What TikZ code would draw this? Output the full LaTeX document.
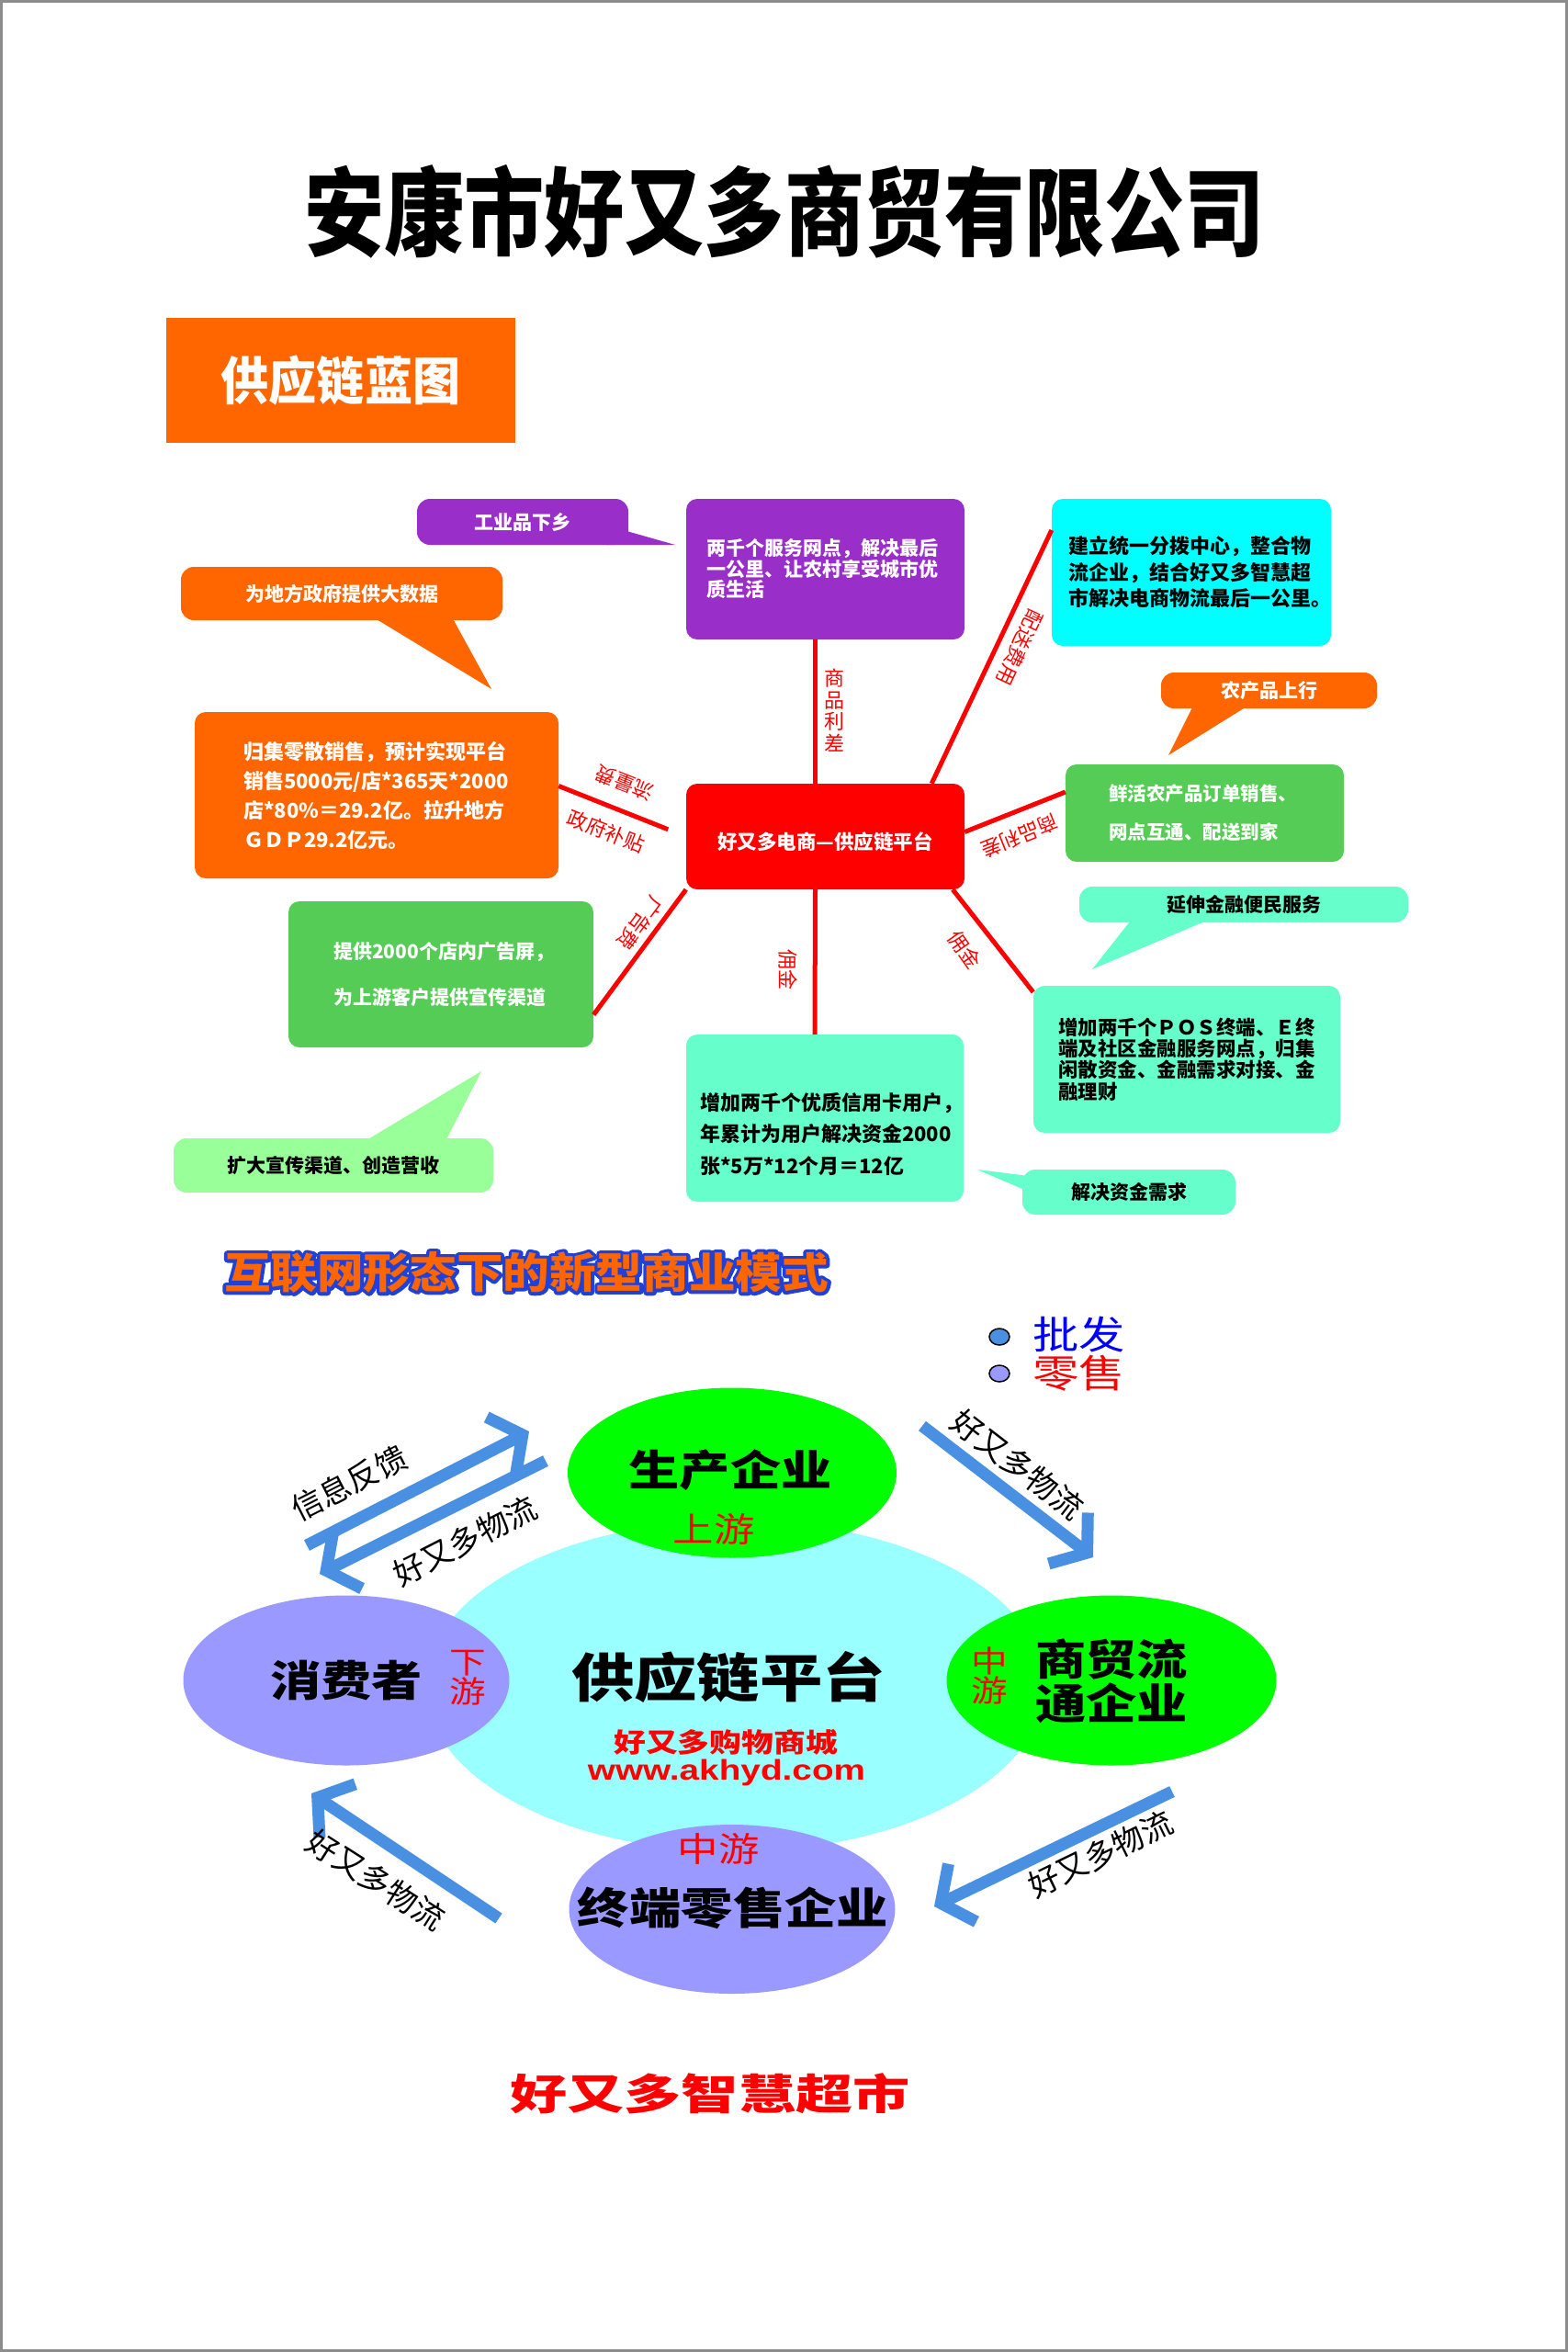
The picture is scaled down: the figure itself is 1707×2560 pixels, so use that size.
\documentclass[tikz,border=0pt]{standalone}
\usepackage{fontspec}
\setmainfont{Noto Sans CJK SC}
\newfontfamily\latinfont{Liberation Sans}
\usepackage{graphicx}
\usepackage{tikz}
\usetikzlibrary{shapes.geometric,arrows.meta}
\definecolor{orangebox}{HTML}{FF6600}
\definecolor{purplebox}{HTML}{9A2EC8}
\definecolor{redbox}{HTML}{FF0000}
\definecolor{cyanbox}{HTML}{00FFFF}
\definecolor{greenbox}{HTML}{55CC55}
\definecolor{mintbox}{HTML}{66FFCC}
\definecolor{lightgreen}{HTML}{99FF99}
\definecolor{flowblue}{HTML}{4A90E2}
\definecolor{hubcyan}{HTML}{99FFFF}
\definecolor{lavender}{HTML}{9999FF}
\definecolor{brightgreen}{HTML}{00FF00}
\definecolor{framegray}{HTML}{8C8C8C}
\newcommand{\widen}[1]{\scalebox{1.2}[1]{#1}}
% orange letters with a blue rim: stroked copy (render mode 1) under the filled one
\newcommand{\rimtext}[1]{\rlap{\special{pdf:literal direct 1 Tr 7 w 1 j 0.12 0.25 0.85 RG}#1\special{pdf:literal direct 0 Tr}}#1}
\tikzset{
  link/.style={draw=redbox, line width=5pt},
  panel/.style={rounded corners=12pt, inner ysep=0pt, align=left},
  bubble/.style={rounded corners=14pt, inner sep=0pt, align=center, font=\fontsize{21}{24}\selectfont\bfseries},
  tag/.style={text=redbox, inner sep=0pt, font=\fontsize{22}{24}\selectfont},
  flow/.style={draw=flowblue, line width=13pt, -{Straight Barb[length=26pt,width=70pt]}},
  flowtag/.style={inner sep=0pt, font=\fontsize{34}{36}\selectfont},
  blob/.style={ellipse, inner sep=0pt},
  bigname/.style={inner sep=0pt, align=center, font=\fontsize{46}{48}\selectfont\bfseries},
  stream/.style={text=redbox, inner sep=0pt, align=center, font=\fontsize{34}{32}\selectfont},
  slogan/.style={inner sep=0pt, font=\fontsize{46}{50}\selectfont\bfseries}
}
\begin{document}
\begin{tikzpicture}[x=1pt,y=-1pt]
  \useasboundingbox (0,0) rectangle (1707,2560);
  \fill[white] (0,0) rectangle (1707,2560);
  \draw[framegray, line width=3pt] (1.5,1.5) rectangle (1705.5,2558.5);

  % heading
  \node[inner sep=0pt, font=\fontsize{105}{110}\selectfont\bfseries] (heading) at (854,230) {\scalebox{0.83}[1]{安康市好又多商贸有限公司}};
  \node[fill=orangebox, minimum width=380pt, minimum height=136pt, inner sep=0pt, text=white, font=\fontsize{56}{60}\selectfont\bfseries] (blueprint) at (371,414) {\scalebox{0.93}[1]{供应链蓝图}};

  % callouts
  \fill[purplebox] (668,574) -- (735,593) -- (660,593) -- cycle;
  \node[bubble, fill=purplebox, text=white, minimum width=230pt, minimum height=50pt] (goodsdown) at (569,568) {工业品下乡};
  \fill[orangebox] (400,668) -- (535,750) -- (490,668) -- cycle;
  \node[bubble, fill=orangebox, text=white, minimum width=350pt, minimum height=58pt] (bigdata) at (372,646) {为地方政府提供大数据};
  \fill[orangebox] (1300,766) -- (1272,822) -- (1362,766) -- cycle;
  \node[bubble, fill=orangebox, text=white, minimum width=235pt, minimum height=39pt] (farmup) at (1381.5,751.5) {农产品上行};
  \fill[mintbox] (1234,998) -- (1189,1055) -- (1323,998) -- cycle;
  \node[bubble, fill=mintbox, minimum width=358pt, minimum height=39pt] (finance) at (1354,984.5) {延伸金融便民服务};
  \fill[mintbox] (1120,1280) -- (1064,1273) -- (1120,1297) -- cycle;
  \node[bubble, fill=mintbox, minimum width=232pt, minimum height=49pt] (funds) at (1229,1297.5) {解决资金需求};
  \fill[lightgreen] (394,1244) -- (524,1166) -- (484,1244) -- cycle;
  \node[bubble, fill=lightgreen, minimum width=348pt, minimum height=59pt] (publicity) at (363,1268.5) {扩大宣传渠道、创造营收};

  % panels
  \node[panel, fill=purplebox, text=white, minimum height=153pt, text width=259pt, inner xsep=22pt, font=\fontsize{21}{22.5}\selectfont\bfseries] (rural) at (898.5,619.5) {两千个服务网点，解决最后\\一公里、让农村享受城市优\\质生活};
  \node[panel, fill=orangebox, text=white, minimum height=181pt, text width=290pt, inner xsep=53pt, font=\fontsize{22}{32}\selectfont\bfseries] (sales) at (410,865.5) {归集零散销售，预计实现平台\\销售5000元/店*365天*2000\\店*80\%＝29.2亿。拉升地方\\ＧＤＰ29.2亿元。};
  \node[panel, fill=redbox, text=white, minimum width=303pt, minimum height=115pt, align=center, font=\fontsize{21.5}{24}\selectfont\bfseries] (platform) at (898.5,910.5) {\rule{0pt}{30pt}好又多电商—供应链平台};
  \node[panel, fill=cyanbox, minimum height=160pt, text width=268pt, inner xsep=18pt, font=\fontsize{22}{28.5}\selectfont\bfseries] (logistics) at (1297,623) {建立统一分拨中心，整合物\\流企业，结合好又多智慧超\\市解决电商物流最后一公里。};
  \node[panel, fill=greenbox, text=white, minimum height=106pt, text width=209pt, inner xsep=47pt, font=\fontsize{20.5}{42}\selectfont\bfseries] (farm) at (1311.5,885) {鲜活农产品订单销售、\\网点互通、配送到家};
  \node[panel, fill=mintbox, minimum height=160pt, text width=280pt, inner xsep=27pt, font=\fontsize{21.5}{23.3}\selectfont\bfseries] (pos) at (1292,1153) {增加两千个ＰＯＳ终端、Ｅ终\\端及社区金融服务网点，归集\\闲散资金、金融需求对接、金\\融理财};
  \node[panel, fill=mintbox, minimum height=182pt, text width=272pt, inner xsep=15pt, font=\fontsize{22}{34.5}\selectfont\bfseries] (credit) at (898,1217) {\rule{0pt}{54pt}增加两千个优质信用卡用户，\\年累计为用户解决资金2000\\张*5万*12个月＝12亿};
  \node[panel, fill=greenbox, text=white, minimum height=159pt, text width=234pt, inner xsep=49pt, font=\fontsize{21}{50}\selectfont\bfseries] (adscreen) at (480,1060.5) {提供2000个店内广告屏，\\为上游客户提供宣传渠道};

  % connectors
  \draw[link] ([xshift=-11pt]rural.south) -- ([xshift=-11pt]platform.north);
  \draw[link] ([xshift=-36pt]platform.north east) -- ([yshift=46pt]logistics.west);
  \draw[link] ([yshift=5pt]platform.east) -- ([yshift=23pt]farm.west);
  \draw[link, shorten >=21pt] ([yshift=10pt]sales.east) -- (platform.west);
  \draw[link] (platform.south west) -- ([yshift=-44pt]adscreen.east);
  \draw[link] ([xshift=-11pt]platform.south) -- ([xshift=-11pt]credit.north);
  \draw[link] ([xshift=-13pt]platform.south east) -- ([yshift=-7pt]pos.north west);

  \node[tag, align=center, font=\fontsize{22}{23.5}\selectfont] (marginup) at (908,773) {商\\品\\利\\差};
  \node[tag, rotate=-115] (delivery) at (1110,705) {配送费用};
  \node[tag, rotate=201.7] (margin) at (1110,910) {商品利差};
  \node[tag, rotate=158.5] (traffic) at (680,852) {流量费};
  \node[tag, rotate=-21.5] (subsidy) at (660,905) {政府补贴};
  \node[tag, rotate=233.6] (adfee) at (697,1005) {广告费};
  \node[tag, rotate=-90] (commA) at (858,1055) {佣金};
  \node[tag, rotate=-55] (commB) at (1050,1034) {佣金};

  % business model
  \node[slogan, text=orangebox] (slogan) at (573,1385) {\rimtext{\scalebox{1.1}[1]{互联网形态下的新型商业模式}}};

  \node[blob, draw=black, line width=1.5pt, fill=flowblue, minimum width=22pt, minimum height=18pt] (dotwhole) at (1088,1455) {};
  \node[anchor=west, inner sep=0pt, text=blue, font=\fontsize{42}{44}\selectfont] (wholesale) at (1124,1452) {\widen{批发}};
  \node[blob, draw=black, line width=1.5pt, fill=lavender, minimum width=22pt, minimum height=18pt] (dotretail) at (1088,1495) {};
  \node[anchor=west, inner sep=0pt, text=redbox, font=\fontsize{42}{44}\selectfont] (retail) at (1124,1495) {\widen{零售}};

  \node[blob, fill=hubcyan, minimum width=674pt, minimum height=360pt] (hub) at (800,1835) {};
  \node[blob, fill=brightgreen, minimum width=358pt, minimum height=185pt] (maker) at (797,1603) {};
  \node[blob, fill=lavender, minimum width=355pt, minimum height=185pt] (consumer) at (377,1829) {};
  \node[blob, fill=brightgreen, minimum width=359pt, minimum height=185pt] (trader) at (1210,1829) {};
  \node[blob, fill=lavender, minimum width=355pt, minimum height=184pt] (store) at (797,2078) {};

  \node[bigname] (makername) at (795,1600) {\widen{生产企业}};
  \node[stream, font=\fontsize{37}{40}\selectfont] (up) at (777,1664) {\widen{上游}};
  \node[bigname] (consumername) at (377,1829) {\widen{消费者}};
  \node[stream, font=\fontsize{33}{32}\selectfont] (down) at (509,1826) {\widen{下}\\\widen{游}};
  \node[bigname] (tradername) at (1210,1830) {\widen{商贸流}\\\widen{通企业}};
  \node[stream, font=\fontsize{33}{32}\selectfont] (midA) at (1077,1824) {\widen{中}\\\widen{游}};
  \node[bigname, font=\fontsize{47}{50}\selectfont\bfseries] (storename) at (798,2077) {\widen{终端零售企业}};
  \node[stream, font=\fontsize{37}{40}\selectfont] (midB) at (782,2012) {\widen{中游}};
  \node[bigname, font=\fontsize{57}{60}\selectfont\bfseries] (hubname) at (793,1825) {\widen{供应链平台}};
  \node[inner sep=0pt, text=redbox, font=\fontsize{29}{32}\selectfont\bfseries] (mall) at (790,1896) {\widen{好又多购物商城}};
  \node[inner sep=0pt, text=redbox, font=\latinfont\fontsize{31}{34}\selectfont\bfseries] (site) at (791,1929) {\scalebox{1.25}[1]{www.akhyd.com}};

  % flows
  \coordinate (fbA) at (334,1682); \coordinate (fbB) at (576,1558);
  \coordinate (lgA) at (594,1590); \coordinate (lgB) at (348,1713);
  \coordinate (lgC) at (1004,1552); \coordinate (lgD) at (1190,1695);
  \coordinate (lgE) at (1276,1950); \coordinate (lgF) at (1017,2075);
  \coordinate (lgG) at (543,2088); \coordinate (lgH) at (339,1952);
  \draw[flow] (fbA) -- (fbB);
  \draw[flow] (lgA) -- (lgB);
  \draw[flow] (lgC) -- (lgD);
  \draw[flow] (lgE) -- (lgF);
  \draw[flow] (lgG) -- (lgH);

  \node[flowtag, rotate=27] (feedback) at (380,1614) {信息反馈};
  \node[flowtag, rotate=27] (shipA) at (506,1677) {好又多物流};
  \node[flowtag, rotate=-37.5] (shipB) at (1108,1594) {好又多物流};
  \node[flowtag, rotate=26] (shipC) at (1198,2018) {好又多物流};
  \node[flowtag, rotate=-32.6] (shipD) at (409,2046) {好又多物流};

  \node[inner sep=0pt, text=redbox, font=\fontsize{46}{50}\selectfont\bfseries] (market) at (773,2279) {\scalebox{1.35}[1]{好又多智慧超市}};
\end{tikzpicture}
\end{document}
